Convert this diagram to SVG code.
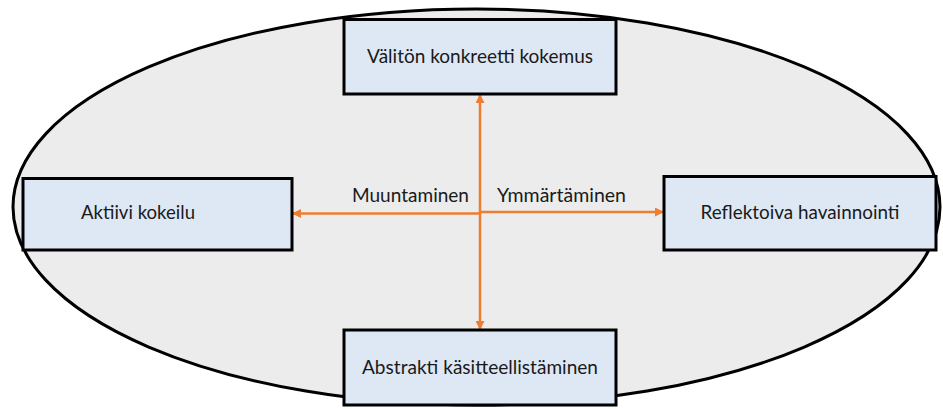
<svg xmlns="http://www.w3.org/2000/svg" width="943" height="409" viewBox="0 0 943 409">
  <style>
    .box { fill: #dee8f5; stroke: #000; stroke-width: 3; }
    .lbl { font-family: Lato, "Liberation Sans", sans-serif; font-size: 18.5px; fill: #1a1a1a; text-anchor: middle; }
    .con { stroke: #ed7d31; stroke-width: 2.5; fill: none; }
  </style>
  <defs>
    <marker id="ah" viewBox="0 0 10 10" refX="10" refY="5" markerWidth="10" markerHeight="9" markerUnits="userSpaceOnUse" orient="auto">
      <path d="M0,0 L10,5 L0,10 Z" fill="#ed7d31"/>
    </marker>
  </defs>
  <rect width="943" height="409" fill="#fff"/>
  <ellipse id="bg" cx="476.5" cy="207" rx="463.5" ry="198" fill="#ececec" stroke="#000" stroke-width="3"/>
  <g id="connectors">
    <line class="con" x1="480" y1="214" x2="480" y2="94" marker-end="url(#ah)"/>
    <line class="con" x1="480" y1="212" x2="480" y2="330" marker-end="url(#ah)"/>
    <line class="con" x1="481" y1="213.5" x2="292" y2="213.5" marker-end="url(#ah)"/>
    <line class="con" x1="479" y1="212" x2="664" y2="212" marker-end="url(#ah)"/>
  </g>
  <g id="label-muuntaminen"><text class="lbl" x="410.5" y="202" textLength="117" lengthAdjust="spacingAndGlyphs">Muuntaminen</text></g>
  <g id="label-ymmartaminen"><text class="lbl" x="561.5" y="202" textLength="129" lengthAdjust="spacingAndGlyphs">Ymmärtäminen</text></g>
  <g id="node-top">
    <rect class="box" x="344" y="19.5" width="272" height="74.5"/>
    <text class="lbl" x="480" y="63" textLength="226" lengthAdjust="spacingAndGlyphs">Välitön konkreetti kokemus</text>
  </g>
  <g id="node-left">
    <rect class="box" x="23" y="178.5" width="269" height="71.5"/>
    <text class="lbl" x="138" y="219" textLength="114" lengthAdjust="spacingAndGlyphs">Aktiivi kokeilu</text>
  </g>
  <g id="node-right">
    <rect class="box" x="664" y="176.5" width="272" height="73.5"/>
    <text class="lbl" x="800" y="219" textLength="199" lengthAdjust="spacingAndGlyphs">Reflektoiva havainnointi</text>
  </g>
  <g id="node-bottom">
    <rect class="box" x="344" y="330" width="272" height="75"/>
    <text class="lbl" x="480" y="374" textLength="236" lengthAdjust="spacingAndGlyphs">Abstrakti käsitteellistäminen</text>
  </g>
</svg>
